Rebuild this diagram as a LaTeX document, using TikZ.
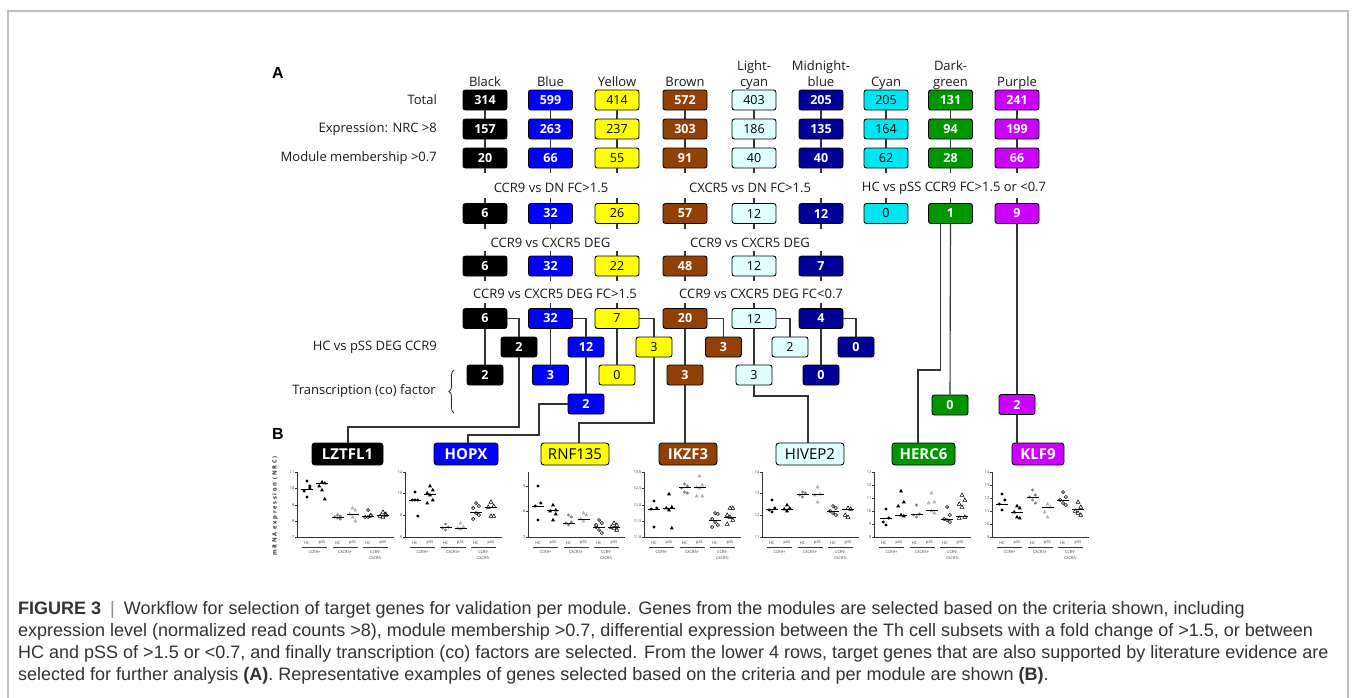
\documentclass[tikz,border=0pt]{standalone}
\usepackage{fontspec}
\setmainfont{Open Sans}
\newfontfamily\capfont{Liberation Sans}
\newfontfamily\spacedfont[LetterSpace=30]{Open Sans}
\usetikzlibrary{decorations.pathreplacing,calc}

\definecolor{mBlack}{RGB}{0,0,0}
\definecolor{mBlue}{RGB}{0,0,255}
\definecolor{mYellow}{RGB}{255,255,0}
\definecolor{mBrown}{RGB}{146,64,6}
\definecolor{mLcyan}{RGB}{224,255,255}
\definecolor{mMid}{RGB}{0,0,150}
\definecolor{mCyan}{RGB}{0,230,240}
\definecolor{mDgreen}{RGB}{0,150,0}
\definecolor{mPurple}{RGB}{204,0,255}
\definecolor{lineC}{RGB}{51,51,51}
\definecolor{capC}{RGB}{50,50,50}

\newcommand\grp[4]{%
 \foreach \yy [count=\k] in {#2}{%
   \pgfmathsetmacro\dx{(mod(\k,3)-1)*2.8}%
   \ifcase#4\or
     \fill[black] ({#1+\dx},\yy) circle[radius=1.7pt];\or
     \fill[black] ({#1+\dx},{\yy-2.2}) -- ({#1+\dx+2},{\yy+1.4}) -- ({#1+\dx-2},{\yy+1.4}) -- cycle;\or
     \fill[gray] ({#1+\dx},\yy) circle[radius=1.7pt];\or
     \fill[gray!60] ({#1+\dx},{\yy-2.2}) -- ({#1+\dx+2},{\yy+1.4}) -- ({#1+\dx-2},{\yy+1.4}) -- cycle;\or
     \draw[black,line width=0.55pt,fill=white] ({#1+\dx},\yy) circle[radius=1.6pt];\or
     \draw[black,line width=0.55pt,fill=white] ({#1+\dx},{\yy-2.1}) -- ({#1+\dx+1.9},{\yy+1.3}) -- ({#1+\dx-1.9},{\yy+1.3}) -- cycle;\fi
 }%
 \draw[line width=0.6pt] ({#1-6},#3) -- ({#1+6},#3);
}

\newcommand\mplot[3]{%
 \draw[line width=0.6pt,black!80] (#2,472) -- (#2,537) -- ({#2+97},537);
 \foreach \l/\yy [count=\k] in {#3}{%
   \draw[line width=0.5pt,black!80] (#2,\yy) -- ({#2-2},\yy);
   \node[tick] (t#1\k) at ({#2-2.5},\yy) {\l};}
 \foreach \o/\n [count=\k] in {10/HC,25/pSS,40.5/HC,55.5/pSS,71/HC,86/pSS}
   \node[xl] (h#1\k) at ({#2+\o},543) {\n};
 \foreach \o in {10,40.5,71}
   \draw[line width=0.5pt,black!80] ({#2+\o-5},547.5) -- ({#2+\o+20},547.5);
 \node[xl] (ga#1) at ({#2+17.5},552) {CCR9+};
 \node[xl] (gb#1) at ({#2+48},552) {CXCR5+};
 \node[xl] (gc#1) at ({#2+78.5},552) {CCR9-};
 \node[xl] (gd#1) at ({#2+78.5},558) {CXCR5-};
}

\begin{document}
\begin{tikzpicture}[x=1pt,y=-1pt,
  box/.style={draw=black, line width=0.9pt, rounded corners=2.5pt, minimum width=44pt, minimum height=20pt, inner sep=0pt},
  sbox/.style={box, minimum width=36pt},
  gbox/.style={draw=black, line width=0.9pt, rounded corners=3pt, minimum height=22pt, inner sep=0pt},
  conn/.style={draw=lineC, line width=1.1pt},
  lab/.style={font=\fontsize{13}{16}\selectfont, text=black!90, inner sep=0pt},
  hdr/.style={lab, align=center, text depth=0pt, anchor=south},
  tick/.style={font=\fontsize{3.8}{4}\selectfont, text=black!80, inner sep=0pt, anchor=east},
  xl/.style={font=\fontsize{3.9}{4}\selectfont, text=black!80, inner sep=0pt},
]
\useasboundingbox (0,0) rectangle (1354,697);
\fill[white] (0,0) rectangle (1354,697);
% frame
\draw[black!25, line width=1.5pt] (8,700) -- (8,11) -- (1348,11) -- (1348,700);

% panel labels
\node[font=\capfont\bfseries\fontsize{16}{18}\selectfont, inner sep=0pt] (pA) at (278,73) {A};
\node[font=\capfont\bfseries\fontsize{16}{18}\selectfont, inner sep=0pt] (pB) at (278,434) {B};

% column headers
\node[hdr] (hd1) at (485,86.5) {Black};
\node[hdr] (hd2) at (550.5,86.5) {Blue};
\node[hdr] (hd3) at (617,86.5) {Yellow};
\node[hdr] (hd4) at (685,86.5) {Brown};
\node[hdr] (hd5) at (754,86.5) {Light-\\cyan};
\node[hdr] (hd6) at (821,86.5) {Midnight-\\blue};
\node[hdr] (hd7) at (886,86.5) {Cyan};
\node[hdr] (hd8) at (950.5,86.5) {Dark-\\green};
\node[hdr] (hd9) at (1017,86.5) {Purple};

% row labels
\node[lab, anchor=east] (lt1) at (437,100) {Total};
\node[lab, anchor=east] (lt2) at (437,129) {Expression: NRC >8};
\node[lab, anchor=east] (lt3) at (437,158) {Module membership >0.7};
\node[lab, anchor=east] (lt7) at (437,347) {HC vs pSS DEG CCR9};
\node[lab, anchor=east] (lt8) at (436,391) {Transcription (co) factor};
\draw[line width=0.8pt, black!85, decorate, decoration={brace, amplitude=5pt}] (454,413) -- (454,370);

% criteria labels
\node[lab] (cA4) at (551,188) {CCR9 vs DN FC>1.5};
\node[lab] (cB4) at (750,188) {CXCR5 vs DN FC>1.5};
\node[lab] (cC4) at (954,188) {HC vs pSS CCR9 FC>1.5 or <0.7};
\node[lab] (cA5) at (550.5,243) {CCR9 vs CXCR5 DEG};
\node[lab] (cB5) at (750,243) {CCR9 vs CXCR5 DEG};
\node[lab] (cA6) at (555,294) {CCR9 vs CXCR5 DEG FC>1.5};
\node[lab] (cB6) at (761,294) {CCR9 vs CXCR5 DEG FC<0.7};

% rows 1-4 (all columns)
\foreach \c/\x/\f/\t/\w/\a/\b/\cc/\d in {
  1/485/mBlack/white/\bfseries/314/157/20/6,
  2/550.5/mBlue/white/\bfseries/599/263/66/32,
  3/617/mYellow/black/\mdseries/414/237/55/26,
  4/685/mBrown/white/\bfseries/572/303/91/57,
  5/754/mLcyan/black/\mdseries/403/186/40/12,
  6/821/mMid/white/\bfseries/205/135/40/12,
  7/886/mCyan/black/\mdseries/205/164/62/0,
  8/950.5/mDgreen/white/\bfseries/131/94/28/1,
  9/1017/mPurple/white/\bfseries/241/199/66/9}{
  \node[box, fill=\f, text=\t, font=\fontsize{12.5}{14}\selectfont\w] (r1c\c) at (\x,100) {\a};
  \node[box, fill=\f, text=\t, font=\fontsize{12.5}{14}\selectfont\w] (r2c\c) at (\x,129) {\b};
  \node[box, fill=\f, text=\t, font=\fontsize{12.5}{14}\selectfont\w] (r3c\c) at (\x,158) {\cc};
  \node[box, fill=\f, text=\t, font=\fontsize{12.5}{14}\selectfont\w] (r4c\c) at (\x,213.5) {\d};
  \draw[conn] (r1c\c.south) -- (r2c\c.north);
  \draw[conn] (r2c\c.south) -- (r3c\c.north);
  \draw[conn] (r3c\c.south) -- ++(0,5);
  \draw[conn] (r4c\c.north) -- ++(0,-5);
}

% rows 5-8 (first six columns)
\foreach \c/\x/\f/\t/\w/\e/\g/\xs/\h/\i in {
  1/485/mBlack/white/\bfseries/6/6/519/2/2,
  2/550.5/mBlue/white/\bfseries/32/32/586/12/3,
  3/617/mYellow/black/\mdseries/22/7/654/3/0,
  4/685/mBrown/white/\bfseries/48/20/723.5/3/3,
  5/754/mLcyan/black/\mdseries/12/12/790/2/3,
  6/821/mMid/white/\bfseries/7/4/856/0/0}{
  \node[box, fill=\f, text=\t, font=\fontsize{12.5}{14}\selectfont\w] (r5c\c) at (\x,266) {\e};
  \node[box, fill=\f, text=\t, font=\fontsize{12.5}{14}\selectfont\w] (r6c\c) at (\x,318.5) {\g};
  \node[sbox, fill=\f, text=\t, font=\fontsize{12.5}{14}\selectfont\w] (r7c\c) at (\xs,347) {\h};
  \node[sbox, fill=\f, text=\t, font=\fontsize{12.5}{14}\selectfont\w] (r8c\c) at (\x,375) {\i};
  \draw[conn] (r4c\c.south) -- ++(0,5);
  \draw[conn] (r5c\c.north) -- ++(0,-5);
  \draw[conn] (r5c\c.south) -- ++(0,5);
  \draw[conn] (r6c\c.north) -- ++(0,-5);
  \draw[conn] (r6c\c.east) -| (r7c\c.north);
  \draw[conn] (r6c\c.south) -- (r8c\c.north);
}

% row 9
\node[sbox, fill=mBlue, text=white, font=\fontsize{12.5}{14}\selectfont\bfseries] (r9c2) at (586,404) {2};
\node[sbox, fill=mDgreen, text=white, font=\fontsize{12.5}{14}\selectfont\bfseries] (r9c8) at (950,405) {0};
\node[sbox, fill=mPurple, text=white, font=\fontsize{12.5}{14}\selectfont\bfseries] (r9c9) at (1017,404.5) {2};

% gene boxes
\node[gbox, minimum width=71pt, fill=mBlack, text=white, font=\fontsize{15}{17}\selectfont\bfseries] (g1) at (347.5,454) {LZTFL1};
\node[gbox, minimum width=64pt, fill=mBlue, text=white, font=\fontsize{15}{17}\selectfont\bfseries] (g2) at (466,454) {HOPX};
\node[gbox, minimum width=68pt, fill=mYellow, text=black, font=\fontsize{15}{17}\selectfont] (g3) at (575,454) {RNF135};
\node[gbox, minimum width=58pt, fill=mBrown, text=white, font=\fontsize{15}{17}\selectfont\bfseries] (g4) at (688,454) {IKZF3};
\node[gbox, minimum width=68pt, fill=mLcyan, text=black, font=\fontsize{15}{17}\selectfont] (g5) at (810,454) {HIVEP2};
\node[gbox, minimum width=63pt, fill=mDgreen, text=white, font=\fontsize{15}{17}\selectfont\bfseries] (g6) at (923.5,454) {HERC6};
\node[gbox, minimum width=52pt, fill=mPurple, text=white, font=\fontsize{15}{17}\selectfont\bfseries] (g7) at (1038,454) {KLF9};

% bend points
\coordinate (j1) at (348,427);
\coordinate (j2) at (539,435);
\coordinate (k2) at (468,435);
\coordinate (j3) at (579,423);
\coordinate (j5) at (808,396);
\coordinate (j6) at (940.5,370);
\coordinate (k6) at (918,370);

% connectors to lower boxes
\draw[conn] (r7c2.south) -- (r9c2.north);
\draw[conn] (r7c1.south) |- (j1) -- (j1 |- g1.north);
\draw[conn] (r9c2.west) -| (j2) -- (k2) -- (k2 |- g2.north);
\draw[conn] (r7c3.south) |- (j3) -- (j3 |- g3.north);
\draw[conn] (r8c4.south) -- (r8c4.south |- g4.north);
\draw[conn] (r8c5.south) |- (j5) -- (j5 |- g5.north);
\draw[conn] (j6 |- r4c8.south) -- (j6) -- (k6) -- (k6 |- g6.north);
\draw[conn] (r4c8.south) -- (r9c8.north);
\draw[conn] (r4c9.south) -- (r9c9.north);
\draw[conn] (r9c9.south) -- (r9c9.south |- g7.north);

% y-axis label
\node[font=\spacedfont\bfseries\fontsize{5.8}{6}\selectfont, rotate=90, inner sep=0pt, text=black!85] (yl) at (275,506) {mRNA expression (NRC)};

% plots
\mplot{1}{297}{11/472,10/488.5,9/505,8/521,7/537}
\grp{297+10}{481,486,491,497,488}{489}{1}
\grp{297+25}{482,483,486,490,499}{483}{2}
\grp{297+40.5}{515,516,517,518,519,517}{517}{3}
\grp{297+55.5}{508,510,514,517,521}{514}{4}
\grp{297+71}{510,515,517,517,516}{516}{5}
\grp{297+86}{512,514,516,517,515}{515}{6}

\mplot{2}{405}{12/472,10/493.5,8/515.5,6/537}
\grp{405+10}{492,500,500,500,516}{500}{1}
\grp{405+25}{486,490,493,495,500,503}{494}{2}
\grp{405+40.5}{524,527,528,530}{527}{3}
\grp{405+55.5}{523,527,528,529}{528}{4}
\grp{405+71}{503,506,508,513,515,519}{512}{5}
\grp{405+86}{502,506,507,516,516}{507}{6}

\mplot{3}{528}{9/486,8/511.5,7/537}
\grp{528+10}{486,503,506,520}{506}{1}
\grp{528+25}{505,510,511,520,514}{510}{2}
\grp{528+40.5}{515,517,523,525,522}{523}{3}
\grp{528+55.5}{513,515,519,521}{519}{4}
\grp{528+71}{520,523,527,530,533,525}{527}{5}
\grp{528+86}{523,525,527,528,530}{527}{6}

\mplot{4}{644}{13.0/472,12.5/488,12.0/505,11.5/521,11.0/537}
\grp{644+10}{501,508,509,527}{509}{1}
\grp{644+25}{494,507,508,510,528}{508}{2}
\grp{644+40.5}{484,486,488,492,493}{487}{3}
\grp{644+55.5}{476,485,487,488,496,496}{487}{4}
\grp{644+71}{513,514,519,522,525,527}{520}{5}
\grp{644+86}{508,508,515,517,520,524}{517}{6}

\mplot{5}{762}{14/472,13/493.5,12/515.5,11/537}
\grp{762+10}{500,508,510,512}{509}{1}
\grp{762+25}{505,508,509,511}{509}{2}
\grp{762+40.5}{492,493,495,497}{494}{3}
\grp{762+55.5}{487,494,495,502}{494}{4}
\grp{762+71}{506,508,511,513,515}{511}{5}
\grp{762+86}{508,509,515,517}{509}{6}

\mplot{6}{874}{13/472,12/485,11/498,10/511,9/524,8/537}
\grp{874+12}{509,518,522,525}{518}{1}
\grp{874+27}{491,502,506,515,516}{515}{2}
\grp{874+42.5}{505,514,515,517}{514}{3}
\grp{874+57.5}{493,502,503,511,513}{510}{4}
\grp{874+73}{507,515,519,520,522}{519}{5}
\grp{874+88}{495,500,504,507,517,518}{516}{6}

\mplot{7}{992}{14/472,13/485,12/498,11/511,10/524,9/537}
\grp{992+10}{494,500,504,510}{504}{1}
\grp{992+25}{506,508,512,517,518}{512}{2}
\grp{992+40.5}{490,495,497,500,503}{497}{3}
\grp{992+55.5}{504,507,512,517}{507}{4}
\grp{992+71}{492,497,500,503,505}{500}{5}
\grp{992+86}{502,507,511,513,515}{509}{6}

% caption
\begin{scope}[every node/.style={anchor=base west, inner sep=0pt, text=capC, font=\capfont\fontsize{18}{22}\selectfont}]
\node (cap1) at (18,614) {\textbf{FIGURE 3}\enspace{\color{black!45}|}\enspace Workflow for selection of target genes for validation per module. Genes from the modules are selected based on the criteria shown, including};
\node (cap2) at (18,636) {expression level (normalized read counts >8), module membership >0.7, differential expression between the Th cell subsets with a fold change of >1.5, or between};
\node (cap3) at (18,658) {HC and pSS of >1.5 or <0.7, and finally transcription (co) factors are selected. From the lower 4 rows, target genes that are also supported by literature evidence are};
\node (cap4) at (18,680) {selected for further analysis \textbf{(A)}. Representative examples of genes selected based on the criteria and per module are shown \textbf{(B)}.};
\end{scope}
\end{tikzpicture}
\end{document}
